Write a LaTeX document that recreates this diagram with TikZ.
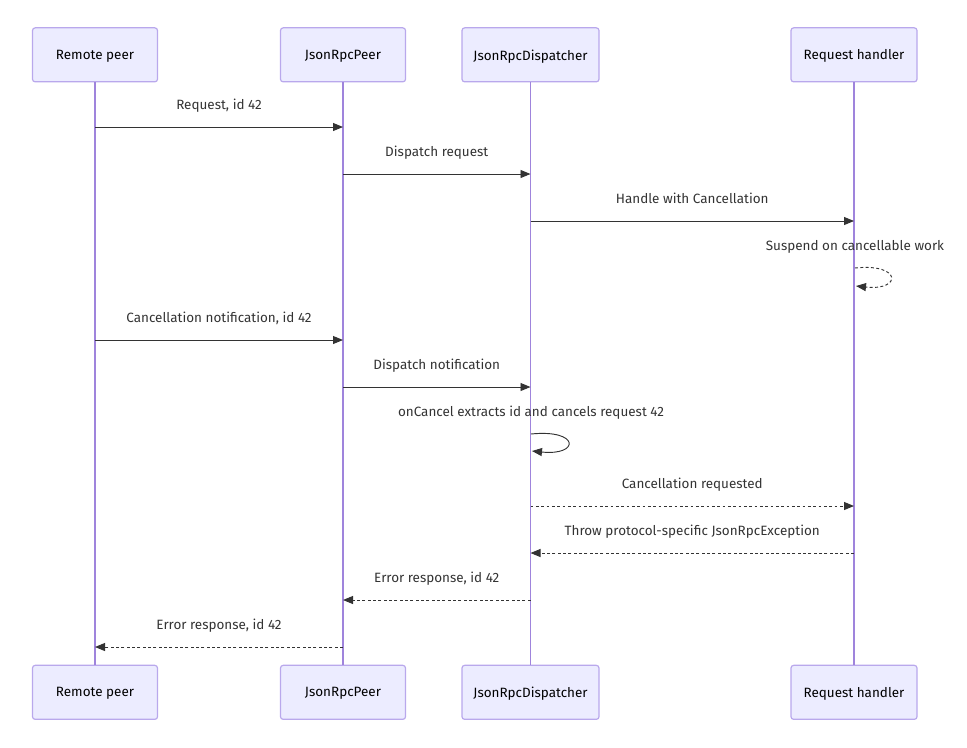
\documentclass[tikz,border=0pt]{standalone}
\usepackage{fontspec}
\setmainfont{Fira Sans}
\usetikzlibrary{arrows.meta}
\definecolor{actfill}{HTML}{ECECFF}
\definecolor{actline}{HTML}{B9A8EC}
\definecolor{lifeline}{HTML}{9F84DC}
\definecolor{msg}{HTML}{333333}
\begin{document}
\begin{tikzpicture}[x=0.75pt,y=-0.75pt,
  actor/.style={draw=actline,fill=actfill,line width=0.9pt,rounded corners=2pt,minimum height=40.5pt,inner sep=0pt,font=\fontsize{10.1pt}{12pt}\selectfont,text=black,text depth=0pt,yshift=-1pt},
  life/.style={draw=lifeline,line width=1.1pt},
  msgline/.style={draw=msg,line width=0.7pt,-{Triangle[length=7.5pt,width=6pt]}},
  reply/.style={msgline,dash pattern=on 2.2pt off 1.8pt},
  lbl/.style={font=\fontsize{10.1pt}{12pt}\selectfont,text=msg,inner sep=0pt,anchor=base},
  mlbl/.style={lbl,yshift=13.5pt}]
\useasboundingbox (0,0) rectangle (967,747);
% actors top
\node[actor,minimum width=93.75pt] (rpT) at (95,53.5) {Remote peer};
\node[actor,minimum width=93.75pt] (jpT) at (343,53.5) {JsonRpcPeer};
\node[actor,minimum width=102.75pt] (jdT) at (530.5,53.5) {JsonRpcDispatcher};
\node[actor,minimum width=94.5pt] (rhT) at (854,53.5) {Request handler};
% actors bottom
\node[actor,minimum width=93.75pt] (rpB) at (95,691) {Remote peer};
\node[actor,minimum width=93.75pt] (jpB) at (343,691) {JsonRpcPeer};
\node[actor,minimum width=102.75pt] (jdB) at (530.5,691) {JsonRpcDispatcher};
\node[actor,minimum width=94.5pt] (rhB) at (854,691) {Request handler};
% lifelines
\draw[life] (rpT.south) -- (rpB.north);
\draw[life] (jpT.south) -- (jpB.north);
\draw[life] (jdT.south) -- (jdB.north);
\draw[life] (rhT.south) -- (rhB.north);
% message rows
\coordinate (m1) at (0,127);
\coordinate (m2) at (0,174);
\coordinate (m3) at (0,221);
\coordinate (m5) at (0,340);
\coordinate (m6) at (0,387);
\coordinate (m8) at (0,506);
\coordinate (m9) at (0,553);
\coordinate (m10) at (0,600);
\coordinate (m11) at (0,647);
\draw[msgline] (rpT.south |- m1) -- node[mlbl] (t1) {Request, id 42} (jpT.south |- m1);
\draw[msgline] (jpT.south |- m2) -- node[mlbl] (t2) {Dispatch request} (jdT.south |- m2);
\draw[msgline] (jdT.south |- m3) -- node[mlbl] (t3) {Handle with Cancellation} (rhT.south |- m3);
% self loop on request handler (dashed)
\coordinate (s4a) at (855,268);
\coordinate (s4b) at (856,286);
\node[lbl] (t4) at (855,250.5) {Suspend on cancellable work};
\draw[reply] (s4a) .. controls (902,263) and (902,291) .. (s4b);
\draw[msgline] (rpT.south |- m5) -- node[mlbl] (t5) {Cancellation notification, id 42} (jpT.south |- m5);
\draw[msgline] (jpT.south |- m6) -- node[mlbl] (t6) {Dispatch notification} (jdT.south |- m6);
% self loop on dispatcher (solid)
\coordinate (s7a) at (531,434);
\coordinate (s7b) at (532,451);
\node[lbl] (t7) at (531,416.5) {onCancel extracts id and cancels request 42};
\draw[msgline] (s7a) .. controls (580,429) and (580,456) .. (s7b);
\draw[reply] (jdT.south |- m8) -- node[mlbl] (t8) {Cancellation requested} (rhT.south |- m8);
\draw[reply] (rhT.south |- m9) -- node[mlbl] (t9) {Throw protocol-specific JsonRpcException} (jdT.south |- m9);
\draw[reply] (jdT.south |- m10) -- node[mlbl] (t10) {Error response, id 42} (jpT.south |- m10);
\draw[reply] (jpT.south |- m11) -- node[mlbl] (t11) {Error response, id 42} (rpT.south |- m11);
\end{tikzpicture}
\end{document}
